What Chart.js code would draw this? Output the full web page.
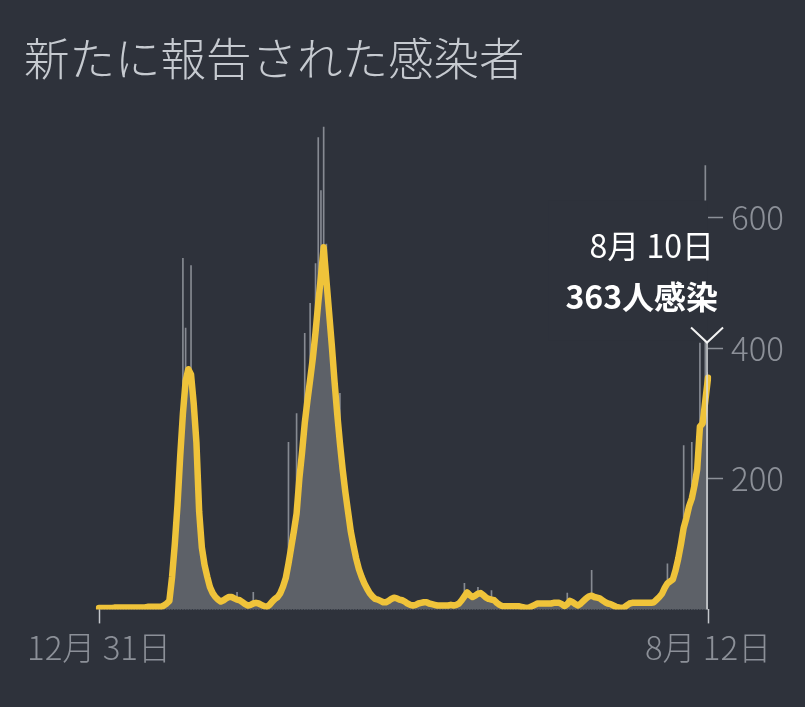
<!DOCTYPE html>
<html lang="ja">
<head>
<meta charset="UTF-8">
<title>新たに報告された感染者</title>
<script src="https://cdn.jsdelivr.net/npm/chart.js@4.4.0/dist/chart.umd.min.js"></script>
<style>
  html, body { margin: 0; padding: 0; background: #2e323b; }
  #wrap { position: relative; width: 805px; height: 707px; }
  #title {
    position: absolute; left: 24px; top: 33px; margin: 0;
    font: 300 45.5px/46px "Noto Sans CJK JP", sans-serif;
    color: #c6cad0; white-space: nowrap;
  }
  canvas { position: absolute; left: 0; top: 0; }
</style>
</head>
<body>
<div id="wrap">
  <canvas id="chart" width="805" height="707"></canvas>
  <h1 id="title">新たに報告された感染者</h1>
</div>

<script>
  // 7-day average (yellow line), one value per day from 12/31
  const average = [
    2, 2, 2, 2, 2, 2, 3, 3, 3, 3,
    3, 3, 3, 3, 3, 3, 3, 3, 4, 4,
    4, 4, 4, 4, 6, 9, 13, 50, 100, 160,
    235, 300, 350, 368, 360, 315, 255, 150, 95, 68,
    50, 34, 25, 19, 15, 12, 14, 17, 19, 19,
    17, 15, 14, 11, 8, 6, 7, 9, 10, 9,
    7, 5, 4, 7, 12, 16, 19, 25, 35, 48,
    70, 95, 120, 147, 200, 240, 285, 320, 352, 385,
    425, 470, 510, 555, 505, 455, 405, 350, 300, 255,
    215, 180, 150, 120, 98, 78, 62, 50, 40, 32,
    25, 20, 16, 15, 13, 11, 11, 13, 16, 18,
    17, 15, 14, 12, 9, 7, 6, 7, 9, 10,
    11, 11, 9, 8, 7, 6, 6, 6, 6, 6,
    7, 6, 7, 9, 14, 20, 26, 22, 19, 21,
    24, 25, 22, 18, 16, 15, 14, 10, 7, 5,
    5, 5, 5, 5, 5, 5, 4, 3, 2, 3,
    5, 7, 9, 9, 9, 9, 9, 9, 10, 10,
    10, 8, 5, 8, 13, 11, 8, 6, 9, 13,
    17, 20, 21, 19, 18, 17, 14, 11, 9, 8,
    6, 4, 3, 2, 3, 6, 9, 10, 10, 10,
    10, 10, 10, 10, 10, 11, 15, 19, 24, 33,
    40, 43, 46, 60, 78, 100, 125, 140, 158, 170,
    190, 215, 280, 285, 320, 355
  ];

  // reported cases per day (thin grey bars)
  const daily = [
    1, 3, 2, 0, 3, 2, 4, 2, 3, 4,
    2, 4, 3, 2, 4, 3, 2, 4, 5, 3,
    5, 3, 4, 4, 7, 10, 15, 45, 90, 150,
    220, 538, 431, 300, 527, 280, 230, 140, 85, 60,
    45, 30, 22, 17, 13, 11, 13, 15, 18, 17,
    15, 26, 12, 10, 7, 5, 6, 26, 9, 8,
    6, 4, 3, 6, 11, 15, 18, 22, 32, 45,
    256, 90, 110, 300, 190, 230, 423, 300, 469, 370,
    530, 723, 642, 739, 560, 430, 390, 330, 290, 331,
    200, 170, 140, 110, 90, 70, 58, 45, 36, 28,
    22, 18, 14, 13, 12, 10, 10, 12, 15, 16,
    15, 14, 12, 11, 8, 6, 5, 6, 8, 9,
    10, 10, 8, 7, 6, 5, 5, 5, 5, 5,
    6, 5, 6, 8, 13, 40, 24, 20, 17, 19,
    34, 23, 20, 16, 15, 29, 13, 9, 6, 4,
    4, 4, 4, 4, 4, 4, 3, 2, 1, 2,
    4, 6, 8, 8, 8, 8, 8, 8, 9, 9,
    9, 7, 4, 25, 12, 10, 7, 5, 8, 12,
    16, 18, 60, 18, 17, 16, 13, 10, 8, 7,
    5, 3, 2, 1, 2, 5, 8, 9, 9, 9,
    9, 9, 9, 9, 9, 10, 14, 18, 22, 30,
    70, 40, 44, 55, 72, 95, 251, 130, 150, 256,
    180, 200, 408, 260, 680, 363
  ];

  const xTickLabels = ['12月 31日', '8月 12日'];
  const yTicks = [200, 400, 600];
  const markDate = '8月 10日';
  const markIndex = daily.length - 1;

  // one category per day
  const categories = [];
  const start = new Date(2019, 11, 31);
  for (let i = 0; i < daily.length; i++) {
    const d = new Date(start.getTime() + i * 86400000);
    categories.push((d.getMonth() + 1) + '月 ' + d.getDate() + '日');
  }

  const BG = '#2e323b';
  const FONT = '"Noto Sans CJK JP", sans-serif';
  Chart.defaults.font.family = FONT;

  const markPlugin = {
    id: 'mark',
    afterDatasetsDraw(chart) {
      const ctx = chart.ctx;
      const x = chart.scales.x, y = chart.scales.y;
      const px = x.getPixelForValue(markIndex);
      const base = y.getPixelForValue(0);
      const tipY = y.getPixelForValue(daily[markIndex]) - 30;

      ctx.save();
      // backdrop behind the label
      ctx.fillStyle = BG;
      ctx.fillRect(px - 160, tipY - 142, 159, 140);

      // pointer line
      ctx.strokeStyle = '#d9dbde';
      ctx.lineWidth = 1.5;
      ctx.beginPath();
      ctx.moveTo(px - 1, base);
      ctx.lineTo(px - 1, tipY);
      ctx.stroke();

      // chevron
      ctx.strokeStyle = '#f2f2f2';
      ctx.lineWidth = 2;
      ctx.beginPath();
      ctx.moveTo(px - 17, tipY - 15);
      ctx.lineTo(px - 1, tipY);
      ctx.lineTo(px + 15, tipY - 15);
      ctx.stroke();

      ctx.fillStyle = '#ffffff';
      ctx.textAlign = 'right';
      ctx.textBaseline = 'middle';
      ctx.font = '400 32px ' + FONT;
      ctx.fillText(markDate, px + 6, tipY - 97);
      ctx.font = '700 32px ' + FONT;
      ctx.fillText(daily[markIndex] + '人感染', px + 10, tipY - 46);
      ctx.restore();
    }
  };

  new Chart(document.getElementById('chart'), {
    data: {
      labels: categories,
      datasets: [
        {
          type: 'line',
          data: average,
          borderColor: '#efc33a',
          borderWidth: 6.5,
          borderJoinStyle: 'round',
          borderCapStyle: 'round',
          backgroundColor: '#5d6168',
          fill: 'origin',
          pointRadius: 0,
          tension: 0,
          order: 0
        },
        {
          type: 'bar',
          data: daily,
          backgroundColor: '#868a92',
          barThickness: 1,
          order: 1
        }
      ]
    },
    options: {
      responsive: false,
      animation: false,
      layout: { padding: { left: 99, right: 13, top: 120, bottom: 36 } },
      plugins: {
        legend: { display: false },
        tooltip: { enabled: false }
      },
      scales: {
        x: {
          offset: false,
          afterBuildTicks: s => { s.ticks = [{ value: 0 }, { value: categories.length - 1 }]; },
          border: { display: false },
          grid: {
            offset: false, drawOnChartArea: false, drawTicks: true,
            tickLength: 14, tickColor: '#c3c6cb', tickWidth: 1.5
          },
          ticks: {
            autoSkip: false, maxRotation: 0, minRotation: 0,
            color: '#8c9098', font: { size: 33, weight: 300 }, padding: 4,
            callback: (v, i) => xTickLabels[i]
          }
        },
        y: {
          position: 'right',
          min: 0,
          max: 750,
          afterBuildTicks: s => { s.ticks = yTicks.map(v => ({ value: v })); },
          border: { display: false },
          grid: {
            drawOnChartArea: false, drawTicks: true,
            tickLength: 15, tickColor: '#8c9098', tickWidth: 1.5
          },
          ticks: { color: '#8c9098', font: { size: 33, weight: 300 }, padding: 8 }
        }
      }
    },
    plugins: [markPlugin]
  });
</script>
</body>
</html>
